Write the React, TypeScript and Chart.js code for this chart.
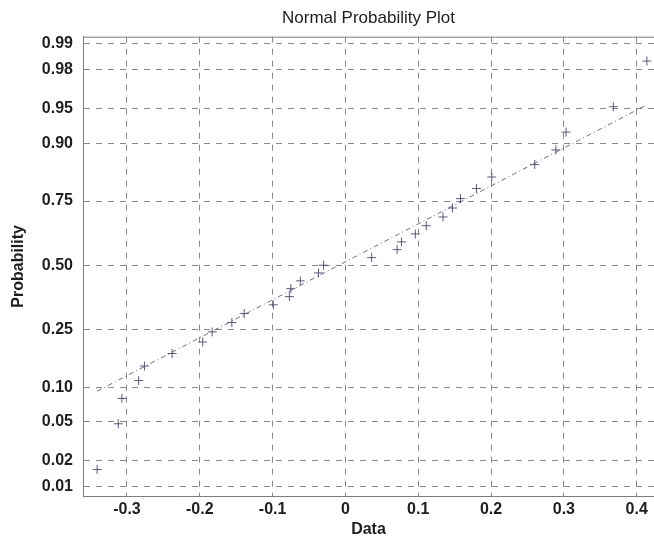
import React, { useEffect, useRef } from "react";
import { Chart, registerables } from "chart.js";

Chart.register(...registerables);

// Sorted sample values
const sampleData = [
  -0.341, -0.312, -0.307, -0.284, -0.276, -0.238, -0.196, -0.183, -0.156, -0.139,
  -0.099, -0.077, -0.075, -0.062, -0.037, -0.030, 0.036, 0.071, 0.077, 0.096,
  0.111, 0.134, 0.147, 0.158, 0.180, 0.201, 0.260, 0.289, 0.303, 0.368, 0.414,
];
// Probability of each point
const plotProb = [
  0.016, 0.048, 0.081, 0.113, 0.145, 0.177, 0.210, 0.242, 0.274, 0.306,
  0.339, 0.371, 0.403, 0.435, 0.468, 0.5, 0.532, 0.565, 0.597, 0.629,
  0.661, 0.694, 0.726, 0.758, 0.79, 0.823, 0.855, 0.887, 0.919, 0.952, 0.984,
];
// Reference (fit) line end points
const fitX = [-0.341, 0.414];
const fitProb = [0.093, 0.954];

const xTicks = [-0.3, -0.2, -0.1, 0, 0.1, 0.2, 0.3, 0.4];
const xTickLabels = ["-0.3", "-0.2", "-0.1", "0", "0.1", "0.2", "0.3", "0.4"];
const yTickProbs = [0.01, 0.02, 0.05, 0.1, 0.25, 0.5, 0.75, 0.9, 0.95, 0.98, 0.99];
const yTickLabels = ["0.01", "0.02", "0.05", "0.10", "0.25", "0.50", "0.75", "0.90", "0.95", "0.98", "0.99"];
const xRange = [-0.3604, 0.4238];
const yProbRange = [0.0077, 0.9918];

// Inverse normal CDF (probability axis transform)
function probit(p: number): number {
  const a = [-3.969683028665376e1, 2.209460984245205e2, -2.759285104469687e2, 1.38357751867269e2, -3.066479806614716e1, 2.506628277459239];
  const b = [-5.447609879822406e1, 1.615858368580409e2, -1.556989798598866e2, 6.680131188771972e1, -1.328068155288572e1];
  const c = [-7.784894002430293e-3, -3.223964580411365e-1, -2.400758277161838, -2.549732539343734, 4.374664141464968, 2.938163982698783];
  const d = [7.784695709041462e-3, 3.224671290700398e-1, 2.445134137142996, 3.754408661907416];
  const pl = 0.02425;
  if (p < pl) {
    const q = Math.sqrt(-2 * Math.log(p));
    return (((((c[0] * q + c[1]) * q + c[2]) * q + c[3]) * q + c[4]) * q + c[5]) / ((((d[0] * q + d[1]) * q + d[2]) * q + d[3]) * q + 1);
  }
  if (p > 1 - pl) {
    const q = Math.sqrt(-2 * Math.log(1 - p));
    return -(((((c[0] * q + c[1]) * q + c[2]) * q + c[3]) * q + c[4]) * q + c[5]) / ((((d[0] * q + d[1]) * q + d[2]) * q + d[3]) * q + 1);
  }
  const q = p - 0.5;
  const r = q * q;
  return ((((((a[0] * r + a[1]) * r + a[2]) * r + a[3]) * r + a[4]) * r + a[5]) * q) / (((((b[0] * r + b[1]) * r + b[2]) * r + b[3]) * r + b[4]) * r + 1);
}

const FONT = "'Liberation Sans', Arial, Helvetica, sans-serif";
const GRID = "rgba(115,115,128,0.85)";
const AXIS = "#7c7c84";
const TEXT = "#1e1e22";
const MARK = "rgba(72,72,125,0.9)";
const LINE = "rgba(90,90,150,0.9)";

const topBorder = {
  id: "topBorder",
  afterDraw(chart: any) {
    const { ctx, chartArea } = chart;
    ctx.save();
    ctx.strokeStyle = AXIS;
    ctx.lineWidth = 1;
    ctx.beginPath();
    ctx.moveTo(chartArea.left, chartArea.top + 0.5);
    ctx.lineTo(chartArea.right, chartArea.top + 0.5);
    ctx.stroke();
    ctx.restore();
  },
};

export default function App() {
  const ref = useRef<HTMLCanvasElement | null>(null);

  useEffect(() => {
    if (!ref.current) return;
    const points = sampleData.map((x, i) => ({ x, y: probit(plotProb[i]) }));
    const fit = fitX.map((x, i) => ({ x, y: probit(fitProb[i]) }));

    const chart = new Chart(ref.current, {
      type: "scatter",
      data: {
        datasets: [
          {
            label: "fit",
            data: fit,
            showLine: true,
            borderColor: LINE,
            borderWidth: 1,
            borderDash: [5, 3, 1, 3],
            pointRadius: 0,
            order: 2,
          },
          {
            label: "data",
            data: points,
            pointStyle: "cross",
            pointRadius: 4.5,
            pointHoverRadius: 4.5,
            borderColor: MARK,
            backgroundColor: MARK,
            borderWidth: 1,
            order: 1,
          },
        ],
      },
      options: {
        animation: false,
        responsive: false,
        events: [],
        layout: { padding: 0, autoPadding: false },
        plugins: {
          legend: { display: false },
          tooltip: { enabled: false },
          title: {
            display: true,
            fullSize: false,
            text: "Normal Probability Plot",
            color: TEXT,
            font: { family: FONT, size: 17, weight: "normal" },
            padding: { top: 8, bottom: 8.3 },
          },
        },
        scales: {
          x: {
            type: "linear",
            min: xRange[0],
            max: xRange[1],
            afterBuildTicks: (s: any) => {
              s.ticks = xTicks.map((v) => ({ value: v }));
            },
            afterFit: (s: any) => {
              s.height = 47;
              s.paddingLeft = 0;
              s.paddingRight = 0;
            },
            ticks: {
              callback: (_v: any, i: number) => xTickLabels[i],
              color: TEXT,
              font: { family: FONT, size: 16, weight: "bold" },
              padding: 4,
              maxRotation: 0,
              autoSkip: false,
            },
            grid: { color: GRID, lineWidth: 1, drawTicks: false },
            border: { display: true, color: AXIS, width: 1, dash: [6, 6] },
            title: {
              display: true,
              text: "Data",
              color: TEXT,
              font: { family: FONT, size: 16, weight: "bold" },
              padding: { top: 0, bottom: 3.4 },
            },
          },
          y: {
            type: "linear",
            min: probit(yProbRange[0]),
            max: probit(yProbRange[1]),
            afterBuildTicks: (s: any) => {
              s.ticks = yTickProbs.map((p) => ({ value: probit(p) }));
            },
            afterFit: (s: any) => {
              s.width = 83;
              s.paddingTop = 0;
              s.paddingBottom = 0;
            },
            ticks: {
              callback: (_v: any, i: number) => yTickLabels[i],
              color: TEXT,
              font: { family: FONT, size: 16, weight: "bold" },
              padding: 10,
              autoSkip: false,
            },
            grid: { color: GRID, lineWidth: 1, drawTicks: false },
            border: { display: true, color: AXIS, width: 1, dash: [6, 6] },
            title: {
              display: true,
              text: "Probability",
              color: TEXT,
              font: { family: FONT, size: 16, weight: "bold" },
              padding: { top: 9, bottom: 0 },
            },
          },
        },
      },
      plugins: [topBorder],
    });
    return () => chart.destroy();
  }, []);

  return (
    <div style={{ position: "fixed", left: 0, top: 0, width: 654, height: 543, background: "#fff" }}>
      <canvas ref={ref} width={654} height={543} style={{ display: "block", width: 654, height: 543 }} />
    </div>
  );
}
